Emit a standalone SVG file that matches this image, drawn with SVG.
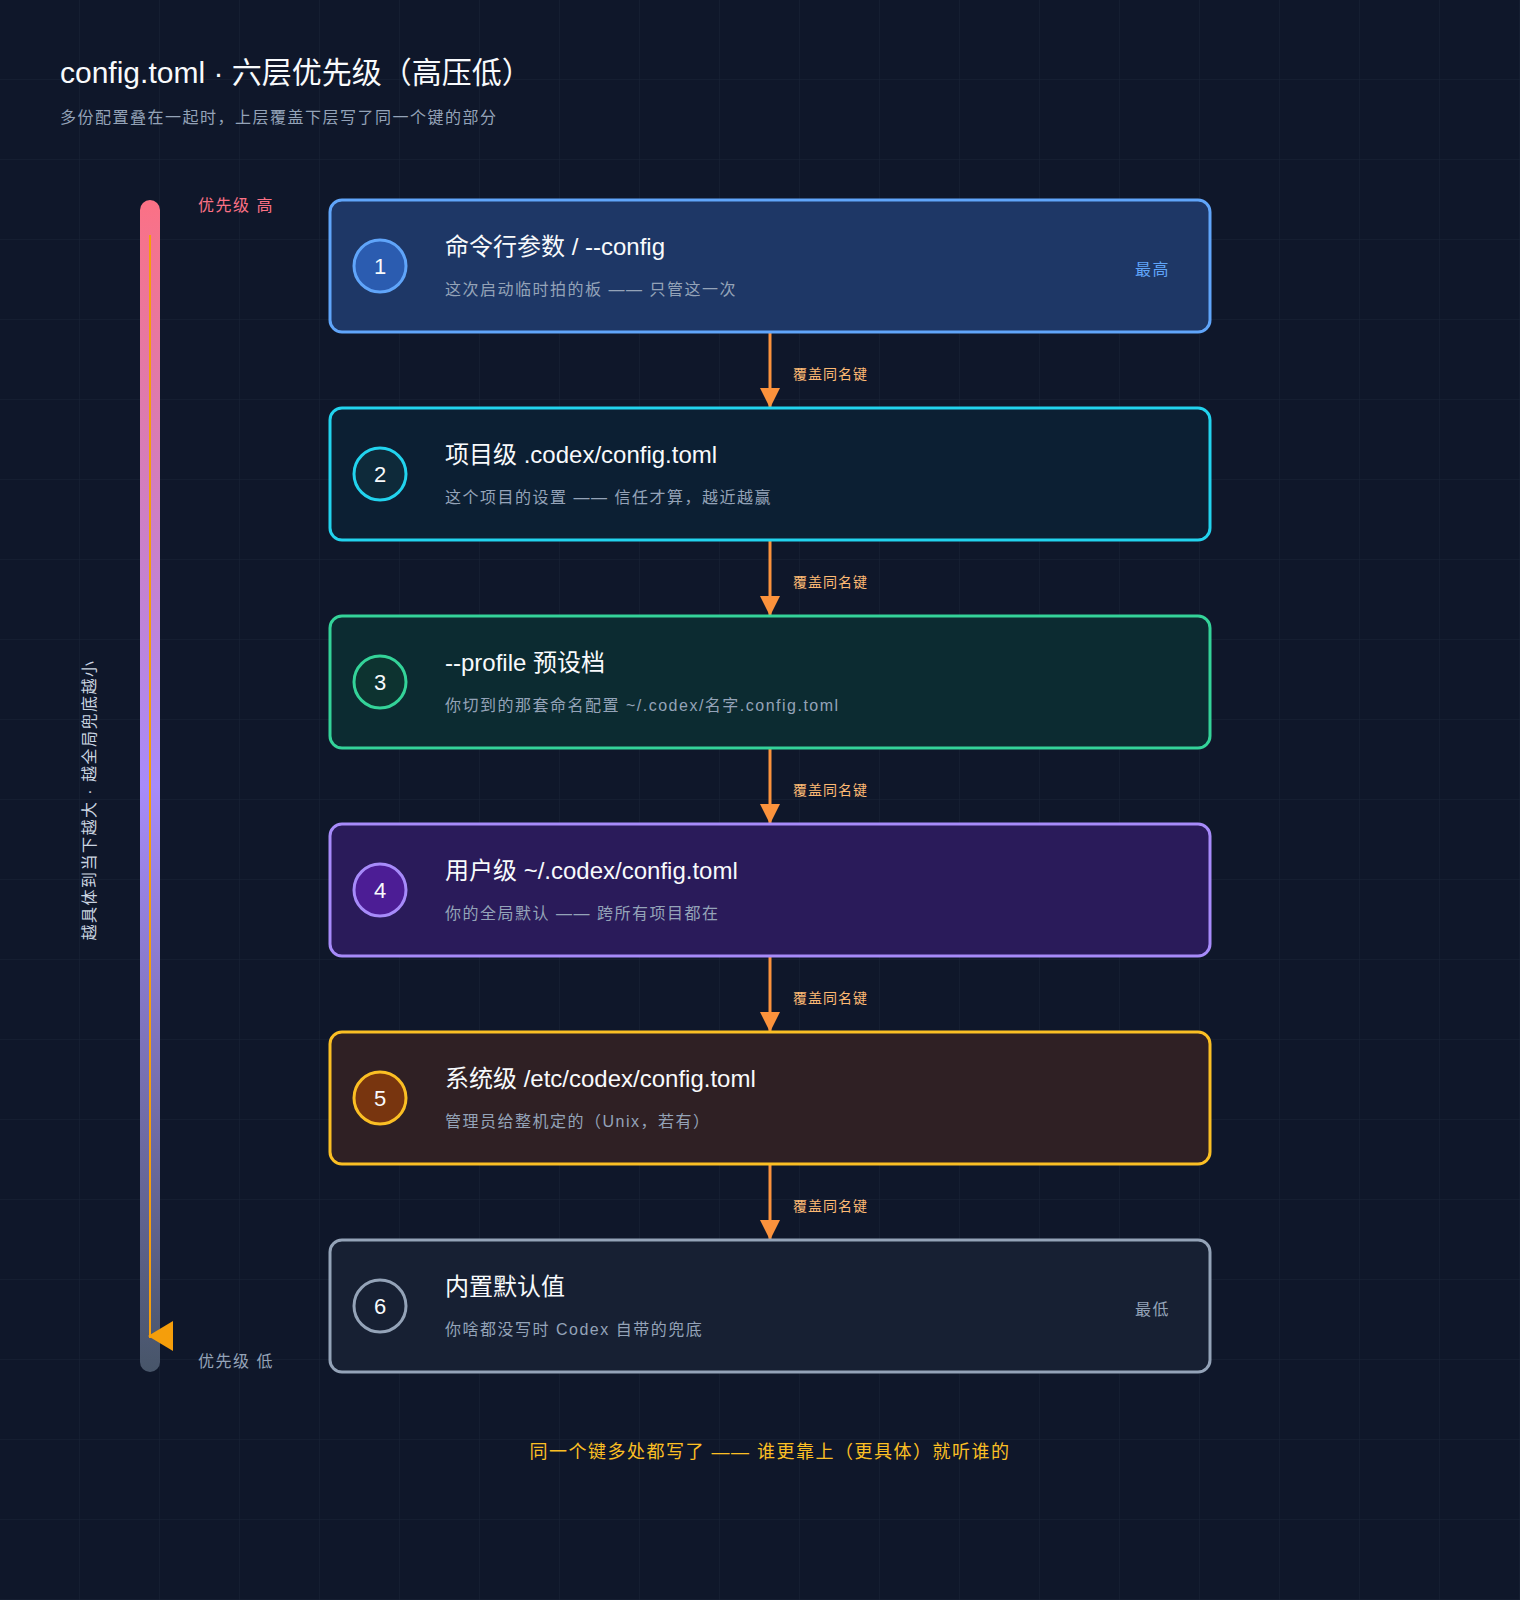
<svg xmlns="http://www.w3.org/2000/svg" width="1520" height="1600" viewBox="0 0 1520 1600">
<defs>
<pattern id="grid" width="80" height="80" patternUnits="userSpaceOnUse"><path d="M80 0V80M0 80H80" fill="none" stroke="#1a2438" stroke-width="1"/></pattern>
<linearGradient id="bar" x1="0" y1="0" x2="0" y2="1"><stop offset="0" stop-color="#fb7185"/><stop offset="0.5" stop-color="#a78bfa"/><stop offset="1" stop-color="#475569"/></linearGradient>
<marker id="ah" markerWidth="20" markerHeight="26" refX="19" refY="10" orient="auto" markerUnits="userSpaceOnUse"><path d="M0 0L20 10L0 20Z" fill="#fb923c"/></marker>
</defs>
<style>
text{font-family:"Liberation Sans","Noto Sans CJK SC",sans-serif}
.t{font-size:24px;fill:#f8fafc}
.s{font-size:16px;fill:#94a3b8;letter-spacing:1.5px}
.n{font-size:22px;fill:#f8fafc;text-anchor:middle}
.e{font-size:14px;fill:#fdba74;letter-spacing:1px}
.c{stroke:#fb923c;stroke-width:3;marker-end:url(#ah)}
.b{stroke-width:3}
</style>
<rect width="1520" height="1600" fill="#0f172a"/>
<rect width="1520" height="1600" fill="url(#grid)"/>
<text x="60" y="83" font-size="30" fill="#f8fafc">config.toml · 六层优先级（高压低）</text>
<text x="60" y="123" font-size="16" fill="#94a3b8" letter-spacing="1.5">多份配置叠在一起时，上层覆盖下层写了同一个键的部分</text>
<g id="axis">
<rect x="140" y="200" width="20" height="1172" rx="10" fill="url(#bar)"/>
<line x1="150" y1="235" x2="150" y2="1338" stroke="#f59e0b" stroke-width="2"/>
<polygon points="148,1336 173,1321 173,1351" fill="#f59e0b"/>
<text x="198" y="211" font-size="16" fill="#fb7185" letter-spacing="1.5">优先级 高</text>
<text x="198" y="1367" font-size="16" fill="#94a3b8" letter-spacing="1.5">优先级 低</text>
<text transform="translate(95,800) rotate(-90)" text-anchor="middle" font-size="16" fill="#cbd5e1" letter-spacing="1.5">越具体到当下越大 · 越全局兜底越小</text>
</g>
<g id="connectors">
<line class="c" x1="770" y1="333" x2="770" y2="407"/><text class="e" x="793" y="379">覆盖同名键</text>
<line class="c" x1="770" y1="541" x2="770" y2="615"/><text class="e" x="793" y="587">覆盖同名键</text>
<line class="c" x1="770" y1="749" x2="770" y2="823"/><text class="e" x="793" y="795">覆盖同名键</text>
<line class="c" x1="770" y1="957" x2="770" y2="1031"/><text class="e" x="793" y="1003">覆盖同名键</text>
<line class="c" x1="770" y1="1165" x2="770" y2="1239"/><text class="e" x="793" y="1211">覆盖同名键</text>
</g>
<g id="n1">
<rect class="b" x="330" y="200" width="880" height="132" rx="12" fill="#1e3766" stroke="#60a5fa"/>
<circle class="b" cx="380" cy="266" r="26" fill="#2b5cb0" stroke="#60a5fa"/>
<text class="n" x="380" y="274">1</text>
<text class="t" x="445" y="255">命令行参数 / --config</text>
<text class="s" x="445" y="295">这次启动临时拍的板 —— 只管这一次</text>
<text x="1170" y="275" font-size="16" fill="#60a5fa" text-anchor="end" letter-spacing="1.5">最高</text>
</g>
<g id="n2">
<rect class="b" x="330" y="408" width="880" height="132" rx="12" fill="#0c1f33" stroke="#22d3ee"/>
<circle class="b" cx="380" cy="474" r="26" fill="#0e2a3a" stroke="#22d3ee"/>
<text class="n" x="380" y="482">2</text>
<text class="t" x="445" y="463">项目级 .codex/config.toml</text>
<text class="s" x="445" y="503">这个项目的设置 —— 信任才算，越近越赢</text>
</g>
<g id="n3">
<rect class="b" x="330" y="616" width="880" height="132" rx="12" fill="#0c2b31" stroke="#34d399"/>
<circle class="b" cx="380" cy="682" r="26" fill="#0d3330" stroke="#34d399"/>
<text class="n" x="380" y="690">3</text>
<text class="t" x="445" y="671">--profile 预设档</text>
<text class="s" x="445" y="711" letter-spacing="0.5">你切到的那套命名配置 ~/.codex/名字.config.toml</text>
</g>
<g id="n4">
<rect class="b" x="330" y="824" width="880" height="132" rx="12" fill="#2a1b5a" stroke="#a78bfa"/>
<circle class="b" cx="380" cy="890" r="26" fill="#4c1d95" stroke="#a78bfa"/>
<text class="n" x="380" y="898">4</text>
<text class="t" x="445" y="879">用户级 ~/.codex/config.toml</text>
<text class="s" x="445" y="919">你的全局默认 —— 跨所有项目都在</text>
</g>
<g id="n5">
<rect class="b" x="330" y="1032" width="880" height="132" rx="12" fill="#2f2024" stroke="#fbbf24"/>
<circle class="b" cx="380" cy="1098" r="26" fill="#78350f" stroke="#fbbf24"/>
<text class="n" x="380" y="1106">5</text>
<text class="t" x="445" y="1087">系统级 /etc/codex/config.toml</text>
<text class="s" x="445" y="1127">管理员给整机定的（Unix，若有）</text>
</g>
<g id="n6">
<rect class="b" x="330" y="1240" width="880" height="132" rx="12" fill="#172033" stroke="#94a3b8"/>
<circle class="b" cx="380" cy="1306" r="26" fill="#172033" stroke="#94a3b8"/>
<text class="n" x="380" y="1314">6</text>
<text class="t" x="445" y="1295">内置默认值</text>
<text class="s" x="445" y="1335">你啥都没写时 Codex 自带的兜底</text>
<text x="1170" y="1315" font-size="16" fill="#94a3b8" text-anchor="end" letter-spacing="1.5">最低</text>
</g>
<text x="770" y="1458" font-size="18" fill="#fbbf24" text-anchor="middle" letter-spacing="1.5">同一个键多处都写了 —— 谁更靠上（更具体）就听谁的</text>
</svg>
